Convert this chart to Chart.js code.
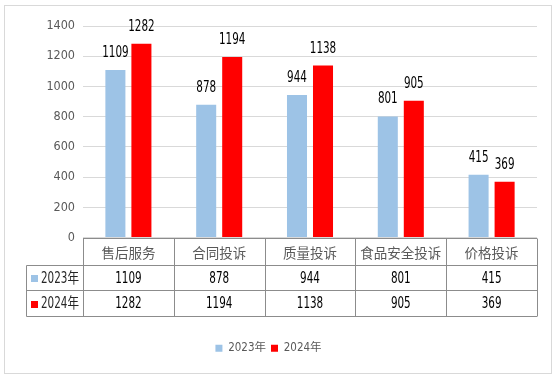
<!DOCTYPE html>
<html><head><meta charset="utf-8">
<script src="https://cdn.jsdelivr.net/npm/chart.js@4/dist/chart.umd.min.js"></script>
<style>html,body{margin:0;padding:0;background:#fff}#wrap{width:557px;height:380px;position:relative}</style>
</head><body><div id="wrap"><canvas id="c" width="557" height="380"></canvas></div>
<script>
const categories = ['售后服务','合同投诉','质量投诉','食品安全投诉','价格投诉'];
const seriesNames = ['2023年','2024年'];
const values2023 = [1109, 878, 944, 801, 415];
const values2024 = [1282, 1194, 1138, 905, 369];
const yTicks = [0, 200, 400, 600, 800, 1000, 1200, 1400];
const seriesColors = ['#9DC3E6', '#FF0000'];

const NUM_FONT = "'Liberation Sans Narrow', 'DejaVu Sans Condensed', 'Noto Sans CJK SC', sans-serif";
const CJK_FONT = "'Noto Sans CJK SC', sans-serif";
const SQUEEZE = 0.77;

function narrowText(ctx, text, x, y) {
  const w = ctx.measureText(text).width;
  ctx.fillText(text, x, y, w * SQUEEZE);
}

const frame = {
  id: 'frame',
  beforeDraw(chart) {
    const ctx = chart.ctx;
    ctx.save();
    ctx.fillStyle = '#fff';
    ctx.fillRect(0, 0, chart.width, chart.height);
    ctx.strokeStyle = '#D9D9D9';
    ctx.lineWidth = 1;
    ctx.strokeRect(4.5, 5.5, 547, 368);
    ctx.restore();
  }
};

const valueLabels = {
  id: 'valueLabels',
  afterDatasetsDraw(chart) {
    const ctx = chart.ctx;
    ctx.save();
    ctx.font = '15px ' + NUM_FONT;
    ctx.fillStyle = '#000';
    ctx.textAlign = 'center';
    ctx.textBaseline = 'alphabetic';
    chart.data.datasets.forEach((ds, di) => {
      chart.getDatasetMeta(di).data.forEach((bar, i) => {
        narrowText(ctx, String(ds.data[i]), bar.x, bar.y - 13);
      });
    });
    ctx.restore();
  }
};

const dataTable = {
  id: 'dataTable',
  afterDraw(chart) {
    const ctx = chart.ctx;
    const xs = chart.scales.x;
    const ca = chart.chartArea;
    const n = categories.length;
    const colW = (ca.right - ca.left) / n;
    const top = Math.round(ca.bottom) + 0.5;
    const rows = [top, top + 27, top + 52, top + 78];
    const legendLeft = 26.5;
    ctx.save();
    ctx.strokeStyle = '#8C8C8C';
    ctx.lineWidth = 1;
    ctx.beginPath();
    ctx.moveTo(ca.left, rows[0]); ctx.lineTo(ca.right, rows[0]);
    for (let r = 1; r < 4; r++) { ctx.moveTo(legendLeft, rows[r]); ctx.lineTo(ca.right, rows[r]); }
    ctx.moveTo(legendLeft, rows[1]); ctx.lineTo(legendLeft, rows[3]);
    for (let c = 0; c <= n; c++) {
      const x = Math.round(ca.left + c * colW) + 0.5;
      ctx.moveTo(x, rows[0]); ctx.lineTo(x, rows[3]);
    }
    ctx.stroke();

    ctx.textAlign = 'center';
    ctx.textBaseline = 'middle';
    ctx.font = '13.5px ' + CJK_FONT;
    ctx.fillStyle = '#595959';
    categories.forEach((c, i) => {
      ctx.fillText(c, xs.getPixelForValue(i), (rows[0] + rows[1]) / 2 + 1);
    });
    const seriesData = [values2023, values2024];
    seriesData.forEach((vals, si) => {
      const cy = (rows[si + 1] + rows[si + 2]) / 2 + 1;
      ctx.font = '15px ' + NUM_FONT;
      ctx.fillStyle = '#000';
      ctx.textAlign = 'center';
      vals.forEach((v, i) => narrowText(ctx, String(v), xs.getPixelForValue(i), cy));
      ctx.fillStyle = seriesColors[si];
      ctx.fillRect(31, Math.round(cy - 4), 7, 7);
      ctx.fillStyle = '#262626';
      ctx.textAlign = 'left';
      narrowText(ctx, seriesNames[si], 41, cy);
    });
    ctx.restore();
  }
};

new Chart(document.getElementById('c'), {
  type: 'bar',
  data: {
    labels: categories,
    datasets: [
      { label: seriesNames[0], data: values2023, backgroundColor: seriesColors[0], categoryPercentage: 0.573, barPercentage: 0.77 },
      { label: seriesNames[1], data: values2024, backgroundColor: seriesColors[1], categoryPercentage: 0.573, barPercentage: 0.77 }
    ]
  },
  options: {
    responsive: false,
    devicePixelRatio: 1,
    animation: false,
    layout: { padding: { top: 26, right: 20, bottom: 16, left: 0 } },
    plugins: {
      tooltip: { enabled: false },
      legend: {
        position: 'bottom',
        labels: {
          boxWidth: 7, boxHeight: 7, padding: 5,
          color: '#595959',
          font: { size: 11.5, family: NUM_FONT }
        }
      }
    },
    scales: {
      x: {
        grid: { display: false },
        border: { display: false },
        ticks: { display: false },
        afterFit(s) { s.height = 100; }
      },
      y: {
        min: 0, max: 1400,
        afterBuildTicks(s) { s.ticks = yTicks.map(v => ({ value: v })); },
        afterFit(s) { s.width = 83; },
        grid: { color: '#D9D9D9', drawTicks: false },
        border: { display: false },
        ticks: { padding: 8, color: '#595959', font: { size: 12.5, family: NUM_FONT }, callback: v => String(v) }
      }
    }
  },
  plugins: [frame, valueLabels, dataTable]
});
</script>
</body></html>
